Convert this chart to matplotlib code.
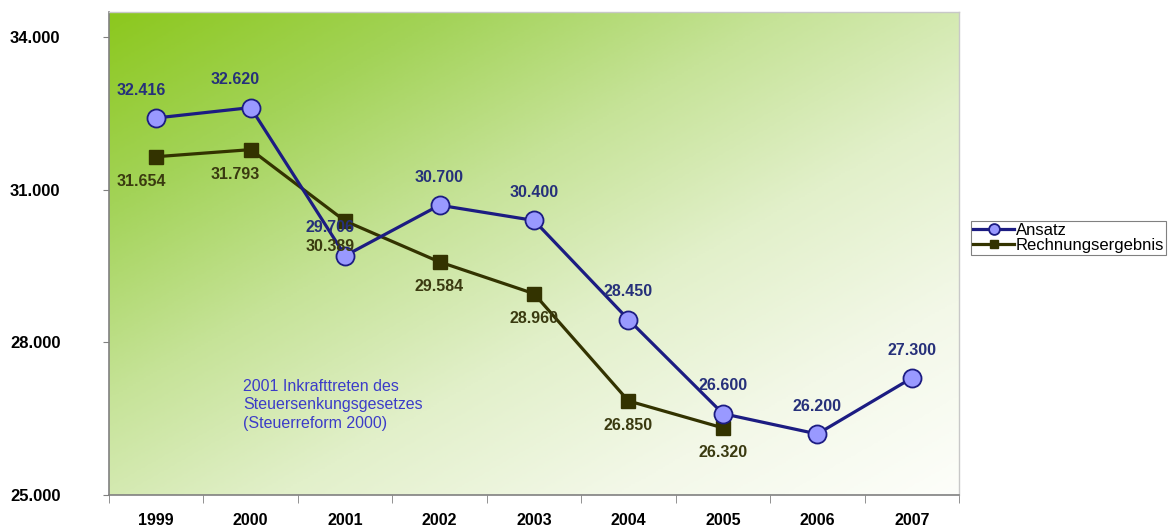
#!/usr/bin/env python3
# -*- coding: utf-8 -*-
import numpy as np
import matplotlib as mpl
mpl.use('Agg')
import matplotlib.pyplot as plt
from matplotlib.colors import LinearSegmentedColormap

plt.rcParams['font.family'] = ['Liberation Sans', 'DejaVu Sans']

##### Daten
years = ['1999', '2000', '2001', '2002', '2003', '2004', '2005', '2006', '2007']
ansatz = [32416, 32620, 29706, 30700, 30400, 28450, 26600, 26200, 27300]
ansatz_labels = ['32.416', '32.620', '29.706', '30.700', '30.400',
                 '28.450', '26.600', '26.200', '27.300']
rechnung = [31654, 31793, 30389, 29584, 28960, 26850, 26320]
rechnung_labels = ['31.654', '31.793', '30.389', '29.584', '28.960',
                   '26.850', '26.320']
y_ticks = [25000, 28000, 31000, 34000]
y_ticklabels = ['25.000', '28.000', '31.000', '34.000']
note = '2001 Inkrafttreten des\nSteuersenkungsgesetzes\n(Steuerreform 2000)'

navy = '#1c1c82'
olive = '#333300'

fig = plt.figure(figsize=(11.71, 5.26), dpi=100)
ax = fig.add_axes([109/1171, 1-495/526, 850/1171, 483/526])

# Hintergrund-Verlauf (gruen oben links -> weiss unten rechts)
cmap = LinearSegmentedColormap.from_list('bg', [
    (0.0, (140/255, 200/255, 30/255)),
    (0.2, (163/255, 211/255, 88/255)),
    (0.4, (198/255, 227/255, 152/255)),
    (0.6, (226/255, 240/255, 202/255)),
    (0.8, (243/255, 248/255, 232/255)),
    (1.0, (253/255, 254/255, 250/255)),
])
u = np.linspace(0, 1, 400)
v = np.linspace(0, 1, 250)
U, V = np.meshgrid(u, v)
ax.imshow((U + V) / 2, cmap=cmap, extent=[0, 1, 0, 1], transform=ax.transAxes,
          aspect='auto', origin='upper', zorder=0, interpolation='bilinear')

x_a = np.arange(len(ansatz))
x_r = np.arange(len(rechnung))

ax.plot(x_r, rechnung, color=olive, lw=2.3, marker='s', ms=10,
        mfc=olive, mec=olive, label='Rechnungsergebnis', zorder=3)
ax.plot(x_a, ansatz, color=navy, lw=2.3, marker='o', ms=13,
        mfc='#9999ff', mec=navy, mew=1.3, label='Ansatz', zorder=4)

# Datenbeschriftungen
for i in range(len(ansatz)):
    dx = -11 if i < 3 else 0
    ax.annotate(ansatz_labels[i], (x_a[i], ansatz[i]), xytext=(dx, 20),
                textcoords='offset points', ha='center', va='center',
                fontsize=11.5, fontweight='bold', color='#26307a', zorder=5)
for i in range(len(rechnung)):
    dx = -11 if i < 3 else 0
    ax.annotate(rechnung_labels[i], (x_r[i], rechnung[i]), xytext=(dx, -18),
                textcoords='offset points', ha='center', va='center',
                fontsize=11.5, fontweight='bold', color='#3a3a10', zorder=5)

ax.text(0.92, 27290, note, color='#3c3cc8', fontsize=11.5, ha='left',
        va='top', linespacing=1.3)

ax.set_xlim(-0.5, len(years) - 0.5)
ax.set_ylim(25000, 34500)
ax.set_xticks(x_a)
ax.set_xticklabels(years, fontsize=11.5, fontweight='bold')
ax.set_xticks(np.arange(-0.5, len(years)), minor=True)
ax.tick_params(axis='x', which='major', length=0, pad=13)
ax.tick_params(axis='x', which='minor', length=6, color='#808080', direction='out')
ax.set_yticks(y_ticks)
ax.set_yticklabels(y_ticklabels, fontsize=12, fontweight='bold')
ax.tick_params(axis='y', length=4, color='#808080', direction='out', pad=31)

for s in ['left', 'bottom']:
    ax.spines[s].set_color('#808080')
    ax.spines[s].set_linewidth(1.2)
for s in ['top', 'right']:
    ax.spines[s].set_color('#c8c8c8')
    ax.spines[s].set_linewidth(1.0)

handles, labels = ax.get_legend_handles_labels()
leg = fig.legend(handles[::-1], labels[::-1], loc='upper left',
                 bbox_to_anchor=(971/1171, 1-221/526), borderaxespad=0,
                 fontsize=12, frameon=True, fancybox=False, framealpha=1,
                 edgecolor='#808080', handlelength=2.5, handletextpad=0.1,
                 labelspacing=0.02, borderpad=0.1, markerscale=0.6)
leg.get_frame().set_linewidth(0.8)

plt.savefig('out.png', dpi=100)
plt.close()
